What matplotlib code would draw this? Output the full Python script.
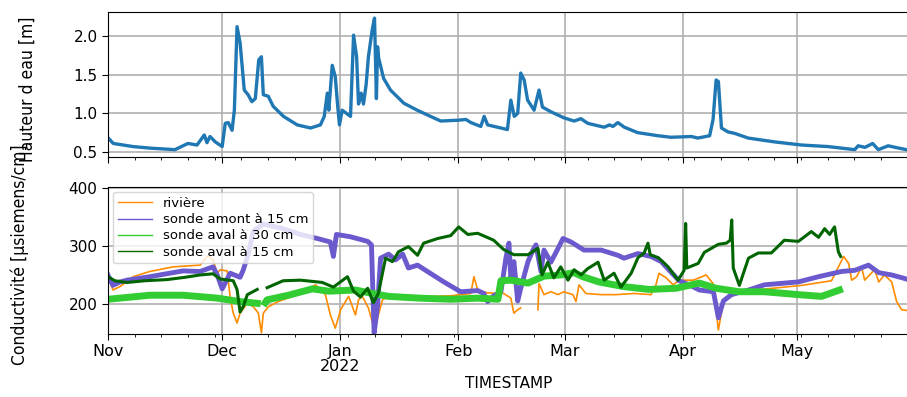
import numpy as np
import pandas as pd
import matplotlib
matplotlib.use("Agg")
import matplotlib.pyplot as plt
import matplotlib.dates as mdates
from matplotlib.lines import Line2D

start = pd.Timestamp("2021-11-01")

# hauteur d'eau (jours depuis le 1er nov, m)
h_days = [0.1, 1.4, 6.6, 11, 17.6, 21, 23.4, 25.3, 26, 26.8, 28.2, 30, 30.8, 31.6, 32.6, 33.2,
          33.9, 34.7, 35.8, 36.8, 37.8, 38.7, 39.6, 40.3, 40.8, 42.1, 43.4, 46.1, 49.7, 53.2,
          55.8, 56.8, 57.6, 58, 58.9, 59.7, 60.3, 60.8, 61.5, 63.7, 64.5, 65.3, 65.8, 66.5,
          67.1, 67.8, 68.4, 69.4, 70, 70.5, 70.8, 71.1, 72.4, 74.2, 77.7, 81.2, 84.7, 87.4,
          91.8, 94, 95.3, 97.9, 98.8, 99.7, 102.3, 104.9, 105.8, 106.7, 107.6, 108.4, 109.3,
          110.2, 111.9, 113.2, 114.1, 116.3, 119.8, 122.4, 124.2, 126, 130.3, 131.7, 132.6,
          133.9, 135.6, 139.1, 141.8, 144.4, 147.9, 153.2, 154.9, 158, 158.9, 159.7, 160.3,
          161.1, 162.8, 164.6, 168.1, 175.1, 182.1, 189.1, 196.1, 197, 198.8, 200.8, 202.3,
          204.9, 206.7, 210.2]
hauteur = [0.68, 0.61, 0.57, 0.55, 0.53, 0.61, 0.59, 0.72, 0.62, 0.70, 0.63, 0.57, 0.87, 0.88,
           0.78, 1.04, 2.12, 1.91, 1.30, 1.24, 1.15, 1.19, 1.69, 1.73, 1.24, 1.22, 1.09, 0.96,
           0.85, 0.81, 0.85, 0.96, 1.26, 1.04, 1.62, 1.47, 1.11, 0.85, 1.04, 0.96, 2.01, 1.73,
           1.12, 1.26, 1.12, 1.37, 1.73, 2.08, 2.23, 1.19, 1.86, 1.71, 1.45, 1.30, 1.13, 1.04,
           0.96, 0.90, 0.91, 0.92, 0.88, 0.83, 0.96, 0.85, 0.82, 0.79, 1.17, 0.96, 1.00, 1.52,
           1.43, 1.17, 1.04, 1.30, 1.08, 1.02, 0.94, 0.90, 0.93, 0.87, 0.82, 0.85, 0.83, 0.88,
           0.82, 0.75, 0.73, 0.71, 0.69, 0.70, 0.68, 0.71, 0.92, 1.43, 1.41, 0.81, 0.76, 0.74,
           0.68, 0.63, 0.59, 0.57, 0.53, 0.58, 0.56, 0.61, 0.53, 0.58, 0.56, 0.525]

# conductivite - riviere
riv_days = [0, 1.3, 3.2, 6.6, 11, 17.1, 24.2, 26.3, 27.6, 28.7, 29.5, 31.3, 32.1, 32.9, 33.9,
            34.7, 36.6, 38.2, 39.5, 40.3, 40.8, 42.1, 44.7, 50.5, 54.5, 57.1, 58.4, 59.7, 61.1,
            63.2, 65, 65.8, 66.8, 68.4, 69.5, 70, 70.8, 72.1, 73.7, 76.8, 85.5, 90, 95.3, 96.1,
            97.1, 99.7, 103.9, 105.8, 106.3, 106.6, 107.6, 108.4, 110, 112.9, 113.2, 114.5,
            116.3, 118.2, 119.7, 122.1, 122.9, 123.7, 125.5, 129.5, 133.4, 138.2, 142.6, 143.9,
            144.7, 146.6, 148.4, 150, 153.7, 157.1, 158.9, 160.3, 161.6, 164.5, 171.6, 182.1,
            190, 193.2, 194.5, 195.3, 196.6, 197.9, 198.7, 201.3, 202.4, 203.9, 205.8, 207.1,
            208.4, 210.3]
riviere = [250, 224, 230, 247, 256, 264, 267, 284, 276, 253, 259, 257, 212, 184, 167, 184, 201,
           195, 184, 150, 184, 195, 204, 218, 233, 216, 181, 158, 190, 213, 181, 207, 213, 193,
           167, 155, 176, 207, 213, 210, 213, 214, 218, 247, 224, 219, 218, 210, 193, 184, 190,
           193, np.nan, 190, 235, 216, 221, 216, 221, 216, 204, 233, 218, 216, 216, 218, 216,
           233, 253, 245, 233, 241, 241, 250, 235, 155, 204, 216, 225, 232, 240, 282, 270, 241,
           247, 264, 241, 259, 238, 250, 238, 204, 190, 188]

# conductivite - sonde amont 15 cm
am_days = [0, 1.3, 3.2, 5, 11, 19.7, 24.2, 27.6, 28.7, 30, 32.1, 34.7, 35.5, 36.8, 38.2, 40.8,
           46, 50.5, 55, 58.4, 59.2, 60, 63.7, 68.2, 69.2, 69.9, 70.8, 71.6, 73.7, 75.5, 77.4,
           78.9, 81.3, 83.9, 88.2, 92.6, 97.1, 98.7, 99.7, 101.3, 103.2, 104.5, 105.3, 105.8,
           106.6, 107.6, 108.4, 110.3, 111.6, 112.4, 113.7, 114.5, 116.3, 118.2, 119.5, 121.6,
           125, 129.5, 133.9, 135.5, 139.2, 142.6, 145.3, 147.4, 150, 152.6, 155.3, 159, 160.3,
           161.6, 163.7, 168.2, 172.4, 181.3, 186.6, 192.6, 196.1, 199.7, 202.4, 205.8, 209.7]
amont = [250, 232, 238, 241, 247, 257, 256, 264, 250, 226, 253, 246, 258, 285, 326, 338, 330,
         320, 313, 307, 282, 320, 316, 308, 302, 150, 196, 279, 286, 276, 286, 262, 267, 256,
         238, 221, 223, 218, 204, 214, 221, 279, 305, 244, 273, 205, 227, 273, 293, 302, 256,
         293, 272, 296, 313, 307, 293, 293, 284, 279, 287, 282, 273, 258, 240, 233, 224, 221,
         176, 205, 216, 224, 233, 238, 247, 256, 258, 267, 254, 250, 243]

# conductivite - sonde aval 30 cm
av30_days = [0, 3.2, 11, 19.7, 28.7, 34.7, 39.2, 40, 41.3, 41.8, 47.4, 53.7, 57.9, 65, 69.5,
             73.7, 81.6, 90, 97.1, 102.4, 103.2, 105.8, 110.3, 114.5, 118.9, 122.4, 124.7,
             128.9, 135.3, 142.1, 149.2, 155.3, 159.7, 165.8, 172.4, 181.3, 187.4, 192.1]
aval30 = [208, 210, 215, 215, 210, 204, 201, np.nan, 202, 207, 215, 226, 222, 224, 218, 213,
          210, 208, 210, 208, 240, 241, 236, 248, 250, 254, 247, 238, 230, 225, 227, 236, 227,
          221, 221, 216, 213, 224]

# conductivite - sonde aval 15 cm
av15_days = [0, 1.8, 5, 9.7, 15.5, 20.3, 24.2, 27.6, 29.5, 32.9, 33.9, 34.7, 35.5, 36.6, 39.2,
             40, 41.8, 46, 50.5, 55, 56.3, 59.2, 62.9, 64.5, 66.3, 68.2, 69.7, 71, 72.9, 74.7,
             76.3, 78.9, 81.3, 82.9, 86.6, 90, 92.1, 94.5, 97.1, 101.3, 103.9, 106.6, 110.3,
             112.9, 114, 115.5, 117.1, 118.9, 120.8, 122.4, 124.2, 126, 128.7, 130.3, 132.9,
             134.7, 137.4, 139.2, 140.8, 141.8, 142.4, 144.5, 147.1, 149.7, 151.3, 151.7, 152,
             155, 156.6, 160.3, 162.4, 163.4, 163.8, 164.2, 165.8, 168.2, 170.8, 174.2, 177.6,
             181.3, 184.7, 186.6, 188.2, 189.5, 190.8, 191.8, 192.4]
aval15 = [247, 240, 237, 240, 242, 246, 250, 252, 243, 240, 225, 186, 195, 216, 225, np.nan,
          228, 240, 241, 238, 237, 229, 247, 222, 212, 227, 202, 218, 279, 273, 290, 299, 284,
          305, 313, 318, 333, 320, 322, 310, 294, 285, 285, 296, 250, 272, 245, 264, 241, 259,
          250, 261, 272, 241, 253, 229, 253, 280, 288, 305, 285, 280, 264, 241, 258, 339, 262,
          270, 289, 303, 305, 310, 345, 262, 232, 279, 288, 288, 310, 308, 325, 315, 330, 320,
          333, 290, 282]


def to_dates(days):
    return start + pd.to_timedelta(days, unit="D")


label_font = dict(fontsize=12.5, family="DejaVu Sans", fontstretch="condensed")

fig = plt.figure(figsize=(9.07, 3.97), dpi=100)
ax1 = fig.add_axes([0.119, 0.6045, 0.883, 0.3655])
ax2 = fig.add_axes([0.119, 0.1587, 0.883, 0.3703], sharex=ax1)

ax1.plot(to_dates(h_days), hauteur, color="#1f77b4", linewidth=2.4)
ax1.set_ylim(0.435, 2.31)
ax1.set_yticks([0.5, 1.0, 1.5, 2.0])
ax1.set_ylabel("Hauteur d eau [m]", **label_font)
ax1.yaxis.set_label_coords(-0.089, 0.47)

ax2.plot(to_dates(riv_days), riviere, color="darkorange", linewidth=1.2)
ax2.plot(to_dates(am_days), amont, color="slateblue", linewidth=3.5)
ax2.plot(to_dates(av30_days), aval30, color="limegreen", linewidth=5)
ax2.plot(to_dates(av15_days), aval15, color="darkgreen", linewidth=2.2)
ax2.set_ylim(148, 402)
ax2.set_yticks([200, 300, 400])
ax2.set_ylabel("Conductivité [µsiemens/cm]", **label_font)
ax2.yaxis.set_label_coords(-0.098, 0.54)
ax2.set_xlabel("TIMESTAMP", fontsize=11, va="center")
ax2.xaxis.set_label_coords(0.5, -0.335)

handles = [Line2D([], [], color=c, linewidth=1)
           for c in ["darkorange", "slateblue", "limegreen", "darkgreen"]]
labels = ["rivière", "sonde amont à 15 cm", "sonde aval à 30 cm", "sonde aval à 15 cm"]
ax2.legend(handles, labels, loc="upper left", fontsize=9.5, borderaxespad=0.4,
           labelspacing=0.25, handlelength=2.6, borderpad=0.35)

ax1.set_xlim(start, start + pd.Timedelta(days=210.3))


def month_fmt(x, pos=None):
    d = mdates.num2date(x)
    if d.month == 1:
        return d.strftime("%b\n%Y")
    return d.strftime("%b")


for ax in (ax1, ax2):
    ax.xaxis.set_major_locator(mdates.MonthLocator())
    ax.xaxis.set_minor_locator(mdates.WeekdayLocator(byweekday=mdates.MO))
    ax.grid(True, which="major", color="#b0b0b0", linewidth=1.2)
    ax.tick_params(axis="y", which="major", labelsize=11, length=4)
    ax.tick_params(axis="x", which="major", labelsize=11.5, length=4)
    ax.tick_params(axis="x", which="minor", length=2)
ax2.xaxis.set_major_formatter(plt.FuncFormatter(month_fmt))
plt.setp(ax1.get_xticklabels(), visible=False)
for lab in ax2.get_xticklabels():
    lab.set_horizontalalignment("center")
    lab.set_linespacing(1.0)

fig.savefig("out.png", dpi=100)
